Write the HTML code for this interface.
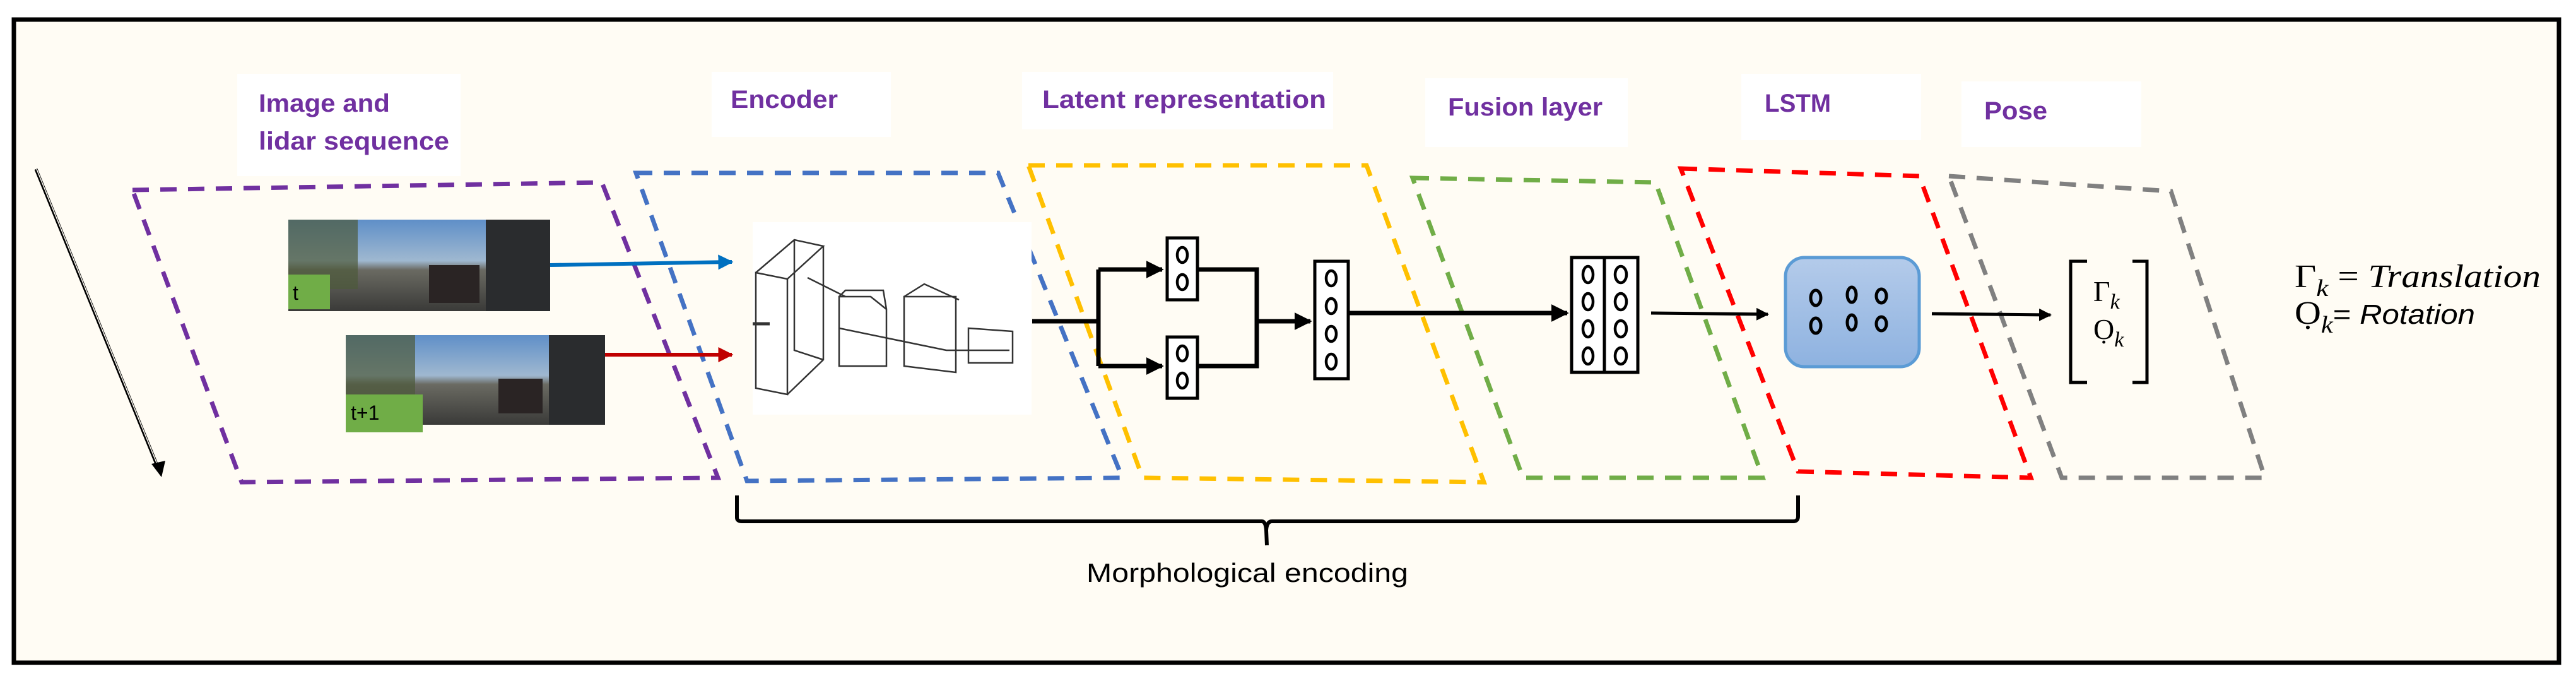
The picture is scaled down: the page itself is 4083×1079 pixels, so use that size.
<!DOCTYPE html>
<html><head><meta charset="utf-8"><style>
html,body{margin:0;padding:0;background:#fff}
svg{display:block}
.lbl{font-family:"Liberation Sans",sans-serif;font-weight:bold;fill:#7030a0;font-size:40px}
</style></head><body>
<svg width="4083" height="1079" viewBox="0 0 4083 1079" xmlns="http://www.w3.org/2000/svg">
<defs>
<linearGradient id="lg" x1="0" y1="0" x2="0" y2="1"><stop offset="0" stop-color="#b4cbea"/><stop offset="1" stop-color="#8eb2e0"/></linearGradient>
<marker id="ah" viewBox="0 0 10 10" refX="9" refY="5" markerWidth="4" markerHeight="4" orient="auto"><path d="M0,0L10,5L0,10z" fill="#000"/></marker>
<marker id="ahb" viewBox="0 0 10 10" refX="9" refY="5" markerWidth="4" markerHeight="4" orient="auto"><path d="M0,0L10,5L0,10z" fill="#0070c0"/></marker>
<marker id="ahr" viewBox="0 0 10 10" refX="9" refY="5" markerWidth="4" markerHeight="4" orient="auto"><path d="M0,0L10,5L0,10z" fill="#c00000"/></marker>
<linearGradient id="sky" x1="0" y1="0" x2="0" y2="1"><stop offset="0" stop-color="#5f8fc8"/><stop offset="0.45" stop-color="#9fb8d0"/><stop offset="0.55" stop-color="#6a6a62"/><stop offset="1" stop-color="#3a3a38"/></linearGradient>
</defs>
<rect x="0" y="0" width="4083" height="1079" fill="#fff"/>
<rect x="22" y="31" width="4034" height="1019" fill="#fffcf4" stroke="#000" stroke-width="7"/>

<rect x="376" y="117" width="354" height="162" fill="#fff"/>
<rect x="1128" y="114" width="284" height="103" fill="#fff"/>
<rect x="1620" y="114" width="493" height="91" fill="#fff"/>
<rect x="2259" y="124" width="321" height="109" fill="#fff"/>
<rect x="2760" y="117" width="285" height="105" fill="#fff"/>
<rect x="3109" y="129" width="285" height="104" fill="#fff"/>
<text class="lbl" x="410" y="177" textLength="208" lengthAdjust="spacingAndGlyphs">Image and</text>
<text class="lbl" x="410" y="237" textLength="302" lengthAdjust="spacingAndGlyphs">lidar sequence</text>
<text class="lbl" x="1158" y="171" textLength="170" lengthAdjust="spacingAndGlyphs">Encoder</text>
<text class="lbl" x="1652" y="171" textLength="450" lengthAdjust="spacingAndGlyphs">Latent representation</text>
<text class="lbl" x="2295" y="183" textLength="245" lengthAdjust="spacingAndGlyphs">Fusion layer</text>
<text class="lbl" x="2797" y="177" textLength="105" lengthAdjust="spacingAndGlyphs">LSTM</text>
<text class="lbl" x="3145" y="189" textLength="100" lengthAdjust="spacingAndGlyphs">Pose</text>

<g fill="none" stroke-width="7" stroke-dasharray="26,18">
<path d="M210,301 L954,289 L1138,757 L383,764 Z" stroke="#7030a0"/>
<path d="M1008,274 L1582,274 L1779,757 L1184,762 Z" stroke="#4472c4"/>
<path d="M1630,262 L2166,262 L2352,764 L1811,757 Z" stroke="#ffc000"/>
<path d="M2239,282 L2624,289 L2794,757 L2414,757 Z" stroke="#70ad47"/>
<path d="M2664,267 L3042,279 L3219,757 L2850,747 Z" stroke="#ff0000"/>
<path d="M3089,279 L3441,303 L3590,757 L3268,757 Z" stroke="#808080"/>
</g>

<line x1="57" y1="268" x2="250" y2="740" stroke="#000" stroke-width="5"/>
<line x1="58" y1="268" x2="251" y2="740" stroke="#fffcf4" stroke-width="1.5"/>
<path d="M240,735 L262,730 L256,756 Z" fill="#000"/>

<g>
<rect x="457" y="348" width="415" height="145" fill="url(#sky)"/>
<rect x="457" y="348" width="110" height="110" fill="#4d5a3a" opacity="0.7"/>
<rect x="770" y="348" width="102" height="145" fill="#2a2c2e"/>
<rect x="680" y="420" width="80" height="60" fill="#2a2424"/>
<rect x="457" y="435" width="66" height="55" fill="#70ad47"/>
<text x="464" y="475" font-family="Liberation Sans,sans-serif" font-size="32" fill="#000">t</text>
<rect x="548" y="531" width="411" height="142" fill="url(#sky)"/>
<rect x="548" y="531" width="110" height="100" fill="#4d5a3a" opacity="0.7"/>
<rect x="870" y="531" width="89" height="142" fill="#2a2c2e"/>
<rect x="790" y="600" width="70" height="55" fill="#2a2424"/>
<rect x="548" y="625" width="122" height="60" fill="#70ad47"/>
<text x="556" y="665" font-family="Liberation Sans,sans-serif" font-size="32" fill="#000">t+1</text>
</g>
<line x1="872" y1="420" x2="1160" y2="415" stroke="#0070c0" stroke-width="6" marker-end="url(#ahb)"/>
<line x1="959" y1="562" x2="1160" y2="562" stroke="#c00000" stroke-width="6" marker-end="url(#ahr)"/>

<rect x="1193" y="352" width="442" height="305" fill="#fff"/>
<g fill="none" stroke="#333" stroke-width="2.5">
<path d="M1198,432 L1248,442 L1248,625 L1198,615 Z"/>
<path d="M1198,432 L1259,380 L1305,390 L1248,442"/>
<path d="M1305,390 L1305,570 L1248,625"/>
<path d="M1259,380 L1259,555 L1305,570"/>
<path d="M1330,470 L1380,470 L1405,490 L1405,580 L1330,580 Z"/>
<path d="M1330,470 L1340,460 L1400,460 L1405,490"/>
<path d="M1433,470 L1515,470 L1515,590 L1433,580 Z"/>
<path d="M1433,470 L1465,450 L1520,475"/>
<path d="M1535,520 L1605,525 L1605,575 L1535,575 Z"/>
<path d="M1280,440 L1340,470 M1330,520 L1500,555 L1600,555"/>
</g>
<line x1="1193" y1="513" x2="1220" y2="513" stroke="#333" stroke-width="5"/>

<g stroke="#000" stroke-width="7" fill="none">
<path d="M1636,509 L1741,509"/>
<path d="M1741,427 L1741,580"/>
<path d="M1741,427 L1842,427" marker-end="url(#ah)"/>
<path d="M1741,580 L1842,580" marker-end="url(#ah)"/>
<path d="M1900,427 L1992,427 L1992,580 L1900,580"/>
<path d="M1992,509 L2077,509" marker-end="url(#ah)"/>
<path d="M2139,496 L2484,496" marker-end="url(#ah)"/>
<path d="M2617,496 L2802,498" stroke-width="5" marker-end="url(#ah)"/>
<path d="M3062,497 L3250,499" stroke-width="5" marker-end="url(#ah)"/>
</g>
<g stroke="#000" stroke-width="5" fill="#fff">
<rect x="1850" y="377" width="48" height="98"/>
<rect x="1850" y="534" width="48" height="97"/>
<rect x="2084" y="414" width="53" height="186"/>
<rect x="2491" y="408" width="52" height="182"/>
<rect x="2543" y="408" width="53" height="182"/>
</g>
<g stroke="#000" stroke-width="4.5" fill="none">
<ellipse cx="1874" cy="404" rx="8" ry="12"/><ellipse cx="1874" cy="447" rx="8" ry="12"/>
<ellipse cx="1874" cy="560" rx="8" ry="12"/><ellipse cx="1874" cy="603" rx="8" ry="12"/>
<ellipse cx="2110" cy="441" rx="8" ry="12"/><ellipse cx="2110" cy="485" rx="8" ry="12"/><ellipse cx="2110" cy="529" rx="8" ry="12"/><ellipse cx="2110" cy="573" rx="8" ry="12"/>
<ellipse cx="2517" cy="435" rx="8" ry="13"/><ellipse cx="2517" cy="478" rx="8" ry="13"/><ellipse cx="2517" cy="521" rx="8" ry="13"/><ellipse cx="2517" cy="564" rx="8" ry="13"/>
<ellipse cx="2569" cy="435" rx="9" ry="13"/><ellipse cx="2569" cy="478" rx="9" ry="13"/><ellipse cx="2569" cy="521" rx="9" ry="13"/><ellipse cx="2569" cy="564" rx="9" ry="13"/>
</g>

<rect x="2830" y="408" width="212" height="173" rx="30" fill="url(#lg)" stroke="#5b9bd5" stroke-width="5"/>
<g stroke="#000" stroke-width="5" fill="none">
<ellipse cx="2878" cy="472" rx="8" ry="12"/><ellipse cx="2935" cy="467" rx="7" ry="12"/><ellipse cx="2982" cy="469" rx="8" ry="11"/>
<ellipse cx="2878" cy="516" rx="8" ry="12"/><ellipse cx="2935" cy="511" rx="7" ry="12"/><ellipse cx="2982" cy="513" rx="8" ry="11"/>
</g>

<path d="M3308,414 L3282,414 L3282,606 L3308,606" stroke="#000" stroke-width="5" fill="none"/>
<path d="M3380,414 L3403,414 L3403,606 L3380,606" stroke="#000" stroke-width="5" fill="none"/>
<text x="3318" y="477" font-family="Liberation Serif,serif" font-size="46">Γ<tspan font-style="italic" font-size="34" dy="12">k</tspan></text>
<text x="3318" y="537" font-family="Liberation Serif,serif" font-size="46">Ọ<tspan font-style="italic" font-size="34" dy="12">k</tspan></text>

<text x="3637" y="455" font-family="Liberation Serif,serif" font-size="52" textLength="390" lengthAdjust="spacingAndGlyphs">Γ<tspan font-style="italic" font-size="38" dy="14">k</tspan><tspan dy="-14"> = </tspan><tspan font-style="italic">Translation</tspan></text>
<text x="3637" y="513" font-family="Liberation Serif,serif" font-size="52" textLength="286" lengthAdjust="spacingAndGlyphs">Ọ<tspan font-style="italic" font-size="38" dy="14">k</tspan><tspan dy="-14" font-family="Liberation Sans,sans-serif" font-size="44">= </tspan><tspan font-family="Liberation Sans,sans-serif" font-style="italic" font-size="44">Rotation</tspan></text>

<path d="M1168,785 L1168,820 Q1168,826 1176,826 L2000,826 Q2006,826 2007,840 L2008,864 M2007,840 Q2008,826 2016,826 L2842,826 Q2850,826 2850,818 L2850,785" stroke="#000" stroke-width="6" fill="none"/>
<text x="1722" y="922" font-family="Liberation Sans,sans-serif" font-size="42" textLength="510" lengthAdjust="spacingAndGlyphs" fill="#000">Morphological encoding</text>
</svg>
</body></html>
